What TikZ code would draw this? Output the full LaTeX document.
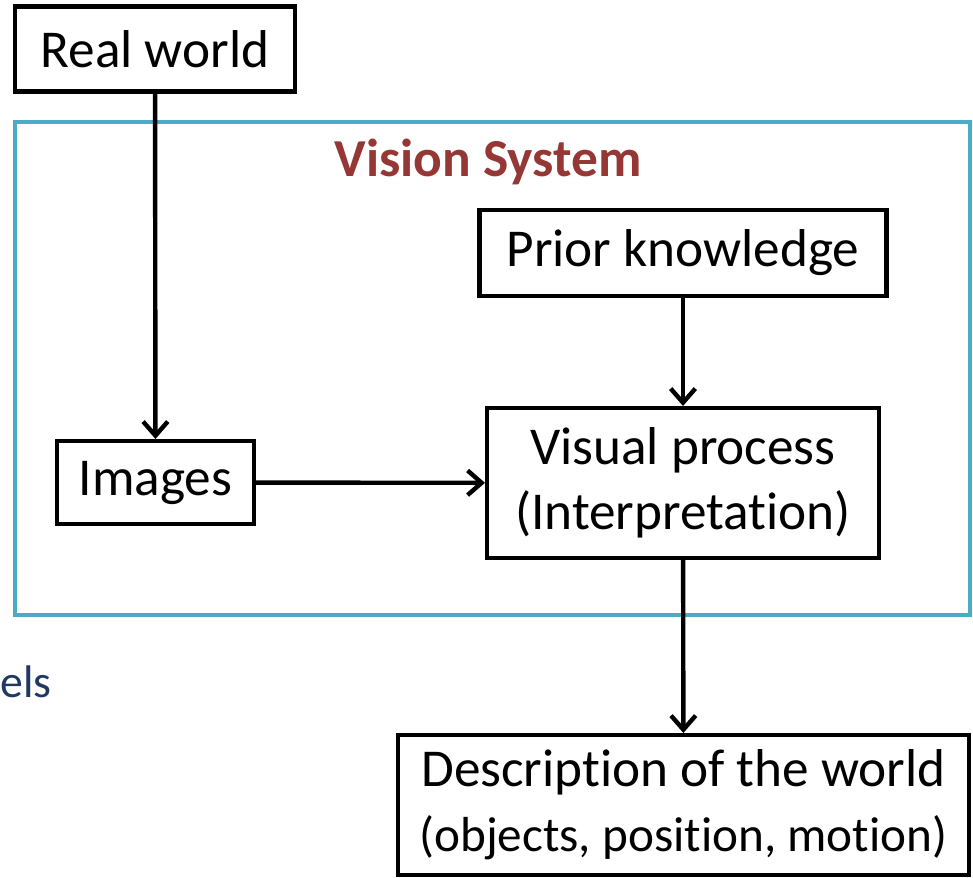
\documentclass[tikz,border=0pt]{standalone}
\usepackage{fontspec}
\setmainfont{Carlito}[Ligatures=NoCommon]
\usepackage{xcolor}
\usepackage{tikz}
\usetikzlibrary{positioning, arrows.meta, calc}

\definecolor{frameblue}{RGB}{75,172,198}
\definecolor{titlered}{RGB}{149,55,53}
\definecolor{textnavy}{RGB}{31,56,100}

\begin{document}
\begin{tikzpicture}[
		% --- STYLES ---
		box/.style={
			rectangle, draw, line width=2.3pt, fill=white,
			align=center, inner sep=2pt, font=\fontsize{30.3}{37}\selectfont
		},
		frame/.style={
			draw=frameblue, line width=2.3pt
		},
		line/.style={
			draw, line width=2.5pt, -{Straight Barb[length=8pt, width=14pt, line width=2.5pt]}
		}
		]
		
		\useasboundingbox (0,0) rectangle (19.46,-17.56);
		
		% ==========================================
		% 1. Vision System frame
		% ==========================================
		\draw [frame] (0.30,-2.44) rectangle (19.40,-12.30);
		\node [font=\fontsize{30.4}{37}\selectfont\bfseries, text=titlered] (title) at (9.76,-3.24) {Vision System};
		
		% ==========================================
		% 2. Boxes
		% ==========================================
		\node [box, minimum width=5.6cm, minimum height=1.7cm] (real_world) at (3.10,-0.98) {Real world};
		\node [box, minimum width=8.14cm, minimum height=1.72cm] (prior) at (13.66,-5.06) {Prior knowledge};
		\node [box, minimum width=3.94cm, minimum height=1.66cm] (images) at (3.11,-9.65) {Images};
		\node [box, minimum width=7.84cm, minimum height=3.0cm] (visual) at (13.66,-9.66) {Visual process\\(Interpretation)};
		\node [box, minimum width=11.42cm, minimum height=2.8cm] (description) at (13.67,-16.10)
		{Description of the world\\{\fontsize{28}{34}\selectfont (objects, position, motion)}};
		
		% leftover text at the left edge
		\node [anchor=west, inner sep=0pt, text=textnavy, font=\fontsize{26}{31}\selectfont] (els) at (0,-13.64) {els};
		
		% ==========================================
		% 3. Connectors
		% ==========================================
		\draw [line] (real_world) -- (images);
		\draw [line] (prior) -- (visual);
		\draw [line] (images) -- (visual);
		\draw [line] (visual) -- (description);
\end{tikzpicture}
\end{document}
